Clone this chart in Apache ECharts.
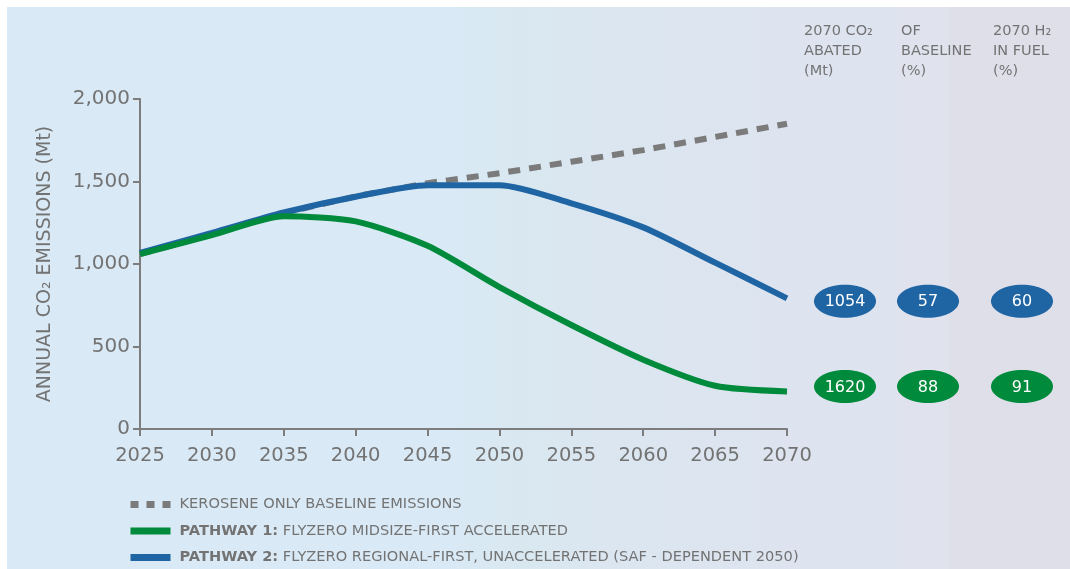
<!DOCTYPE html>
<html>
<head>
<meta charset="utf-8">
<script src="https://cdn.jsdelivr.net/npm/echarts@6/dist/echarts.min.js"></script>
<style>
  html, body { margin: 0; padding: 0; background: #ffffff; }
  #chart { width: 1070px; height: 569px; }
</style>
</head>
<body>
<div id="chart"></div>
<script>
// Years on the horizontal axis
const years = [2025, 2030, 2035, 2040, 2045, 2050, 2055, 2060, 2065, 2070];

// Annual CO2 emissions (Mt)
const baseline = [1060, 1180, 1310, 1410, 1490, 1550, 1620, 1690, 1770, 1850];
const pathway1 = [1060, 1175, 1290, 1258, 1110, 860, 630, 420, 262, 228];
const pathway2 = [1068, 1188, 1312, 1408, 1478, 1478, 1368, 1222, 1008, 792];

// Summary table columns
const tableHeaders = ['2070 CO₂\nABATED\n(Mt)', 'OF\nBASELINE\n(%)', '2070 H₂\nIN FUEL\n(%)'];
const pathway1Table = [1620, 88, 91];
const pathway2Table = [1054, 57, 60];

const yTicks = [0, 500, 1000, 1500, 2000];

const GREEN = '#008a3c';
const BLUE = '#1f64a3';
const GREY_LINE = '#7b7b7b';
const TEXT = '#737373';
const FONT = '"DejaVu Sans", "Noto Sans", sans-serif';

const chart = echarts.init(document.getElementById('chart'), null, { renderer: 'canvas' });

const toPairs = arr => arr.map((v, i) => [years[i], v]);

const option = {
  backgroundColor: '#ffffff',
  animation: false,
  textStyle: { fontFamily: FONT },
  grid: { left: 140, right: 283, top: 99, bottom: 140, containLabel: false },
  xAxis: {
    type: 'value',
    min: 2025, max: 2070, interval: 5,
    axisLine: { show: true, lineStyle: { color: '#7d7d7d', width: 2 } },
    axisTick: { show: true, length: 7, lineStyle: { color: '#7d7d7d', width: 2 } },
    axisLabel: { color: TEXT, fontSize: 19.5, margin: 17, fontFamily: FONT, formatter: v => String(v) },
    splitLine: { show: false }
  },
  yAxis: {
    type: 'value',
    min: yTicks[0], max: yTicks[yTicks.length - 1], interval: 500,
    name: 'ANNUAL CO₂ EMISSIONS (Mt)',
    nameLocation: 'middle',
    nameGap: 85,
    nameRotate: 90,
    nameTextStyle: { color: TEXT, fontSize: 19, fontFamily: FONT },
    axisLine: { show: true, lineStyle: { color: '#7d7d7d', width: 2 } },
    axisTick: { show: true, length: 7, lineStyle: { color: '#7d7d7d', width: 2 } },
    axisLabel: {
      color: TEXT, fontSize: 20, margin: 10, fontFamily: FONT,
      formatter: v => v.toLocaleString('en-US')
    },
    splitLine: { show: false }
  },
  legend: {
    orient: 'vertical',
    left: 122, top: 497,
    padding: [0, 5, 0, 5],
    itemWidth: 40, itemHeight: 7,
    itemGap: 11.5,
    data: [
      { name: 'KEROSENE ONLY BASELINE EMISSIONS', lineStyle: { type: [8, 8], width: 7 } },
      { name: 'PATHWAY 1: FLYZERO MIDSIZE-FIRST ACCELERATED', lineStyle: { width: 7 } },
      { name: 'PATHWAY 2: FLYZERO REGIONAL-FIRST, UNACCELERATED (SAF - DEPENDENT 2050)', lineStyle: { width: 7 } }
    ],
    formatter: name => {
      const idx = name.indexOf(':');
      if (idx < 0) return '{n|' + name + '}';
      return '{b|' + name.slice(0, idx + 1) + '}{n|' + name.slice(idx + 1) + '}';
    },
    textStyle: {
      padding: [0, 0, 0, 4],
      rich: {
        n: { color: TEXT, fontSize: 14.6, fontFamily: FONT, lineHeight: 18 },
        b: { color: TEXT, fontSize: 14.6, fontFamily: FONT, fontWeight: 'bold', lineHeight: 18 }
      }
    }
  },
  series: [
    {
      name: 'KEROSENE ONLY BASELINE EMISSIONS',
      type: 'line',
      data: toPairs(baseline),
      showSymbol: false, symbol: 'none',
      z: 1,
      lineStyle: { color: GREY_LINE, width: 6, type: [12, 9] },
      itemStyle: { color: GREY_LINE }
    },
    {
      name: 'PATHWAY 2: FLYZERO REGIONAL-FIRST, UNACCELERATED (SAF - DEPENDENT 2050)',
      type: 'line',
      data: toPairs(pathway2),
      showSymbol: false, symbol: 'none',
      smooth: 0.25,
      z: 2,
      lineStyle: { color: BLUE, width: 6 },
      itemStyle: { color: BLUE }
    },
    {
      name: 'PATHWAY 1: FLYZERO MIDSIZE-FIRST ACCELERATED',
      type: 'line',
      data: toPairs(pathway1),
      showSymbol: false, symbol: 'none',
      smooth: 0.25,
      z: 3,
      lineStyle: { color: GREEN, width: 6 },
      itemStyle: { color: GREEN }
    }
  ]
};

chart.setOption(option);

// Page background panels and the summary table drawn as graphics
function drawExtras() {
  const W = 1070, H = 569;
  const elements = [];

  // soft blue-to-lavender panel with a white margin on the top/left
  elements.push({
    type: 'rect', z: -10, silent: true,
    shape: { x: 7, y: 7, width: W - 7, height: H - 7 },
    style: {
      fill: new echarts.graphic.LinearGradient(0, 0, 1, 0, [
        { offset: 0, color: '#d9e9f5' },
        { offset: 0.42, color: '#d9e9f5' },
        { offset: 0.48, color: '#d9e8f0' },
        { offset: 0.56, color: '#dbe6f0' },
        { offset: 0.74, color: '#dde4ef' },
        { offset: 1, color: '#dde4ef' }
      ])
    }
  });
  elements.push({
    type: 'rect', z: -9, silent: true,
    shape: { x: 897, y: 7, width: 52, height: H - 7 },
    style: { fill: '#e0e3ee' }
  });
  elements.push({
    type: 'rect', z: -9, silent: true,
    shape: { x: 949, y: 7, width: W - 949, height: H - 7 },
    style: { fill: '#dfdfea' }
  });

  // table header text
  const colX = [804, 901, 993];
  const ovalX = [845, 928, 1022];
  tableHeaders.forEach((t, i) => {
    elements.push({
      type: 'text', z: 5, silent: true,
      x: colX[i], y: 21,
      style: {
        text: t, fill: TEXT, font: '14.5px ' + FONT,
        lineHeight: 20, align: 'left', verticalAlign: 'top'
      }
    });
  });

  // oval value cells, aligned to each pathway's 2070 level
  const rows = [
    { vals: pathway2Table, color: BLUE, y: chart.convertToPixel({ gridIndex: 0 }, [2070, pathway2[pathway2.length - 1]])[1] + 3 },
    { vals: pathway1Table, color: GREEN, y: chart.convertToPixel({ gridIndex: 0 }, [2070, pathway1[pathway1.length - 1]])[1] - 5 }
  ];
  rows.forEach(r => {
    r.vals.forEach((v, i) => {
      elements.push({
        type: 'ellipse', z: 5, silent: true,
        shape: { cx: ovalX[i], cy: r.y, rx: 31, ry: 16.5 },
        style: { fill: r.color }
      });
      elements.push({
        type: 'text', z: 6, silent: true,
        x: ovalX[i], y: r.y + 1,
        style: {
          text: String(v), fill: '#ffffff',
          font: '16px ' + FONT, align: 'center', verticalAlign: 'middle'
        }
      });
    });
  });

  chart.setOption({ graphic: { elements } });
}
drawExtras();
</script>
</body>
</html>
